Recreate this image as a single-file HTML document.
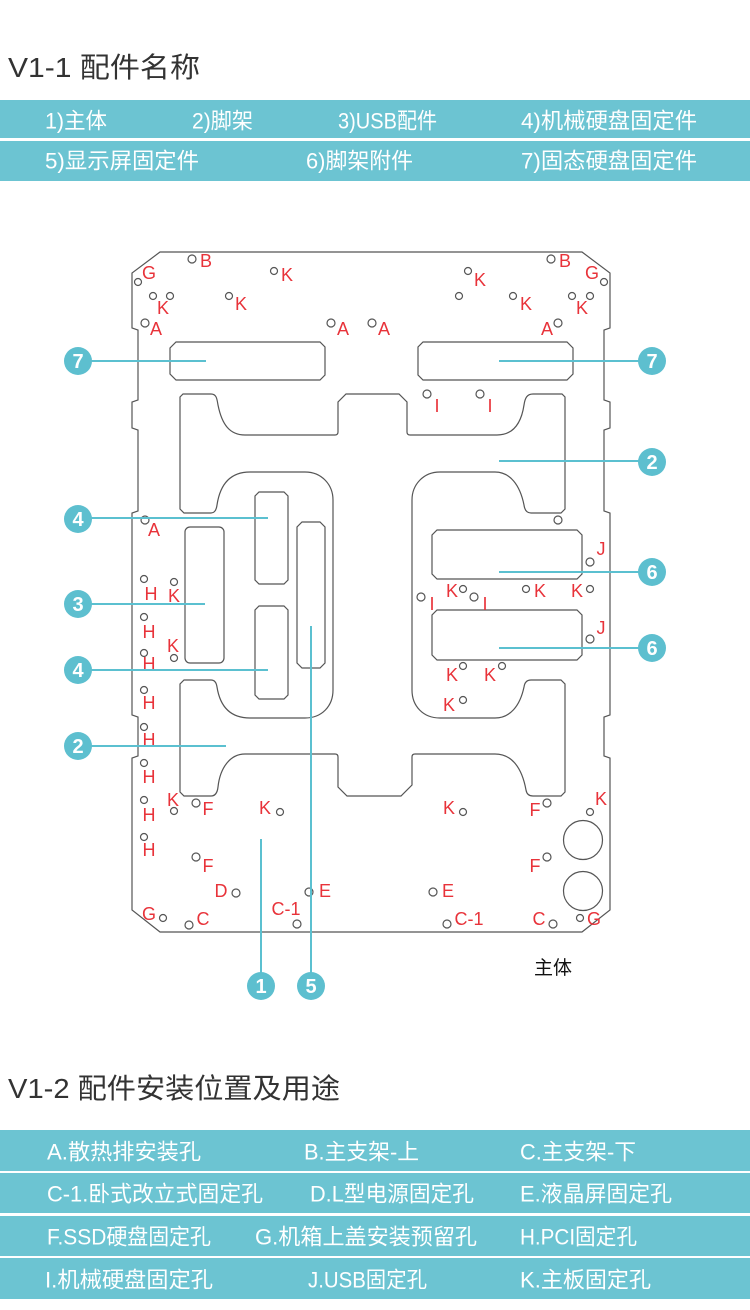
<!DOCTYPE html>
<html><head><meta charset="utf-8"><style>
html,body{margin:0;padding:0;background:#fff;}
svg{display:block}
.t{font-family:"Liberation Sans","Noto Sans CJK SC",sans-serif;}
.w{fill:#fff;font-size:22px;font-family:"Liberation Sans","Noto Sans CJK SC",sans-serif;dominant-baseline:central}
.r{fill:#e8333a;font-size:18px;font-family:"Liberation Sans",sans-serif;text-anchor:middle;dominant-baseline:central}
.h{fill:none;stroke:#555;stroke-width:1.2}
.c{fill:#5dbfcf}
.n{fill:#fff;font-size:20px;font-weight:bold;font-family:"Liberation Sans",sans-serif;text-anchor:middle;dominant-baseline:central}
.l{stroke:#5bc0d0;stroke-width:2;fill:none}
</style></head><body>
<svg width="750" height="1310" viewBox="0 0 750 1310" xmlns="http://www.w3.org/2000/svg">
<text class="t" x="8" y="77" font-size="28" fill="#333" textLength="192" lengthAdjust="spacingAndGlyphs">V1-1 配件名称</text>
<rect x="0" y="100" width="750" height="38" fill="#6cc4d2"/>
<rect x="0" y="141" width="750" height="40" fill="#6cc4d2"/>
<text class="w" x="45" y="121" textLength="62" lengthAdjust="spacingAndGlyphs">1)主体</text>
<text class="w" x="192" y="121" textLength="61" lengthAdjust="spacingAndGlyphs">2)脚架</text>
<text class="w" x="338" y="121" textLength="99" lengthAdjust="spacingAndGlyphs">3)USB配件</text>
<text class="w" x="521" y="121" textLength="176" lengthAdjust="spacingAndGlyphs">4)机械硬盘固定件</text>
<text class="w" x="45" y="161" textLength="154" lengthAdjust="spacingAndGlyphs">5)显示屏固定件</text>
<text class="w" x="306" y="161" textLength="107" lengthAdjust="spacingAndGlyphs">6)脚架附件</text>
<text class="w" x="521" y="161" textLength="176" lengthAdjust="spacingAndGlyphs">7)固态硬盘固定件</text>

<!-- board -->
<path class="h" stroke-width="1.4" d="M160,252 L582,252 L610,273 L610,328 L604,330 L604,400 L610,402 L610,428 L604,430 L604,511 L610,513 L610,715 L604,717 L604,756 L610,758 L610,910 L582,932 L160,932 L132,910 L132,758 L138,756 L138,717 L132,715 L132,513 L138,511 L138,430 L132,428 L132,402 L138,400 L138,330 L132,328 L132,273 Z"/>
<path class="h" d="M176,342 L320,342 L325,347 L325,375 L320,380 L176,380 L170,374 L170,348 Z"/>
<path class="h" d="M423,342 L567,342 L573,348 L573,374 L567,380 L423,380 L418,375 L418,347 Z"/>
<path class="h" d="M180,397 L183,394 L211,394 C217,394 217,400 218,405 C222,425 230,435 245,435 L335,435 Q338,435 338,432 L338,402 L346,394 L399,394 L407,402 L407,432 Q407,435 410,435 L497,435 C512,435 521,425 524,405 C525,398 527,394 533,394 L562,394 L565,397 L565,509 L561,513 L531,513 Q525,513 524,505 C520,485 510,472 495,472 L440,472 C423,472 412,485 412,500 L412,690 C412,706 423,718 440,718 L495,718 C510,718 520,706 524,687 Q525,680 531,680 L561,680 L565,684 L565,792 L561,796 L533,796 Q527,796 526,790 C522,768 512,754 495,754 L415,754 Q412,754 412,757 L412,785 L401,796 L347,796 L338,787 L338,757 Q338,754 335,754 L245,754 C230,754 220,768 218,787 Q217,796 211,796 L184,796 L180,792 L180,684 L184,680 L211,680 Q216,680 217,687 C220,706 230,718 250,718 L305,718 C322,718 333,706 333,690 L333,500 C333,485 322,472 305,472 L250,472 C230,472 220,485 217,505 Q216,513 211,513 L184,513 L180,509 Z"/>
<path class="h" d="M259,492 L284,492 L288,496 L288,580 L284,584 L259,584 L255,580 L255,496 Z"/>
<path class="h" d="M259,606 L284,606 L288,610 L288,695 L284,699 L259,699 L255,695 L255,610 Z"/>
<rect class="h" x="185" y="527" width="39" height="136" rx="5"/>
<path class="h" d="M302,522 L320,522 L325,527 L325,663 L320,668 L302,668 L297,663 L297,527 Z"/>
<path class="h" d="M437,530 L577,530 L582,535 L582,574 L577,579 L437,579 L432,574 L432,535 Z"/>
<path class="h" d="M437,610 L577,610 L582,615 L582,655 L577,660 L437,660 L432,655 L432,615 Z"/>
<circle class="h" cx="583" cy="840" r="19.5"/>
<circle class="h" cx="583" cy="891" r="19.5"/>

<!-- holes -->
<g class="h">
<circle cx="192" cy="259" r="4"/><circle cx="138" cy="282" r="3.5"/><circle cx="274" cy="271" r="3.5"/>
<circle cx="153" cy="296" r="3.5"/><circle cx="170" cy="296" r="3.5"/><circle cx="229" cy="296" r="3.5"/>
<circle cx="145" cy="323" r="4"/><circle cx="331" cy="323" r="4"/><circle cx="372" cy="323" r="4"/>
<circle cx="551" cy="259" r="4"/><circle cx="604" cy="282" r="3.5"/><circle cx="468" cy="271" r="3.5"/>
<circle cx="459" cy="296" r="3.5"/><circle cx="513" cy="296" r="3.5"/><circle cx="572" cy="296" r="3.5"/><circle cx="590" cy="296" r="3.5"/>
<circle cx="558" cy="323" r="4"/><circle cx="427" cy="394" r="4"/><circle cx="480" cy="394" r="4"/>
<circle cx="145" cy="520" r="4"/><circle cx="144" cy="579" r="3.5"/><circle cx="174" cy="582" r="3.5"/>
<circle cx="144" cy="617" r="3.5"/><circle cx="174" cy="658" r="3.5"/><circle cx="144" cy="653" r="3.5"/>
<circle cx="144" cy="690" r="3.5"/><circle cx="144" cy="727" r="3.5"/><circle cx="144" cy="763" r="3.5"/>
<circle cx="144" cy="800" r="3.5"/><circle cx="144" cy="837" r="3.5"/>
<circle cx="558" cy="520" r="4"/><circle cx="590" cy="562" r="4"/><circle cx="463" cy="589" r="3.5"/>
<circle cx="421" cy="597" r="4"/><circle cx="474" cy="597" r="4"/><circle cx="526" cy="589" r="3.5"/><circle cx="590" cy="589" r="3.5"/>
<circle cx="590" cy="639" r="4"/><circle cx="463" cy="666" r="3.5"/><circle cx="502" cy="666" r="3.5"/><circle cx="463" cy="700" r="3.5"/>
<circle cx="174" cy="811" r="3.5"/><circle cx="196" cy="803" r="4"/><circle cx="280" cy="812" r="3.5"/>
<circle cx="196" cy="857" r="4"/><circle cx="236" cy="893" r="4"/><circle cx="309" cy="892" r="4"/><circle cx="433" cy="892" r="4"/>
<circle cx="163" cy="918" r="3.5"/><circle cx="189" cy="925" r="4"/><circle cx="297" cy="924" r="4"/>
<circle cx="447" cy="924" r="4"/><circle cx="553" cy="924" r="4"/><circle cx="580" cy="918" r="3.5"/>
<circle cx="463" cy="812" r="3.5"/><circle cx="547" cy="803" r="4"/><circle cx="590" cy="812" r="3.5"/><circle cx="547" cy="857" r="4"/>
</g>

<!-- red labels -->
<g>
<text class="r" x="206" y="261">B</text><text class="r" x="149" y="273">G</text><text class="r" x="287" y="275">K</text>
<text class="r" x="163" y="308">K</text><text class="r" x="241" y="304">K</text>
<text class="r" x="156" y="329">A</text><text class="r" x="343" y="329">A</text><text class="r" x="384" y="329">A</text>
<text class="r" x="565" y="261">B</text><text class="r" x="592" y="273">G</text><text class="r" x="480" y="280">K</text>
<text class="r" x="526" y="304">K</text><text class="r" x="582" y="308">K</text><text class="r" x="547" y="329">A</text>
<text class="r" x="437" y="406">I</text><text class="r" x="490" y="406">I</text>
<text class="r" x="154" y="530">A</text>
<text class="r" x="151" y="594">H</text><text class="r" x="174" y="596">K</text>
<text class="r" x="149" y="632">H</text><text class="r" x="173" y="646">K</text><text class="r" x="149" y="664">H</text>
<text class="r" x="149" y="703">H</text><text class="r" x="149" y="740">H</text><text class="r" x="149" y="777">H</text>
<text class="r" x="149" y="815">H</text><text class="r" x="149" y="850">H</text>
<text class="r" x="601" y="549">J</text><text class="r" x="452" y="591">K</text><text class="r" x="432" y="604">I</text>
<text class="r" x="485" y="604">I</text><text class="r" x="540" y="591">K</text><text class="r" x="577" y="591">K</text>
<text class="r" x="601" y="628">J</text><text class="r" x="452" y="675">K</text><text class="r" x="490" y="675">K</text><text class="r" x="449" y="705">K</text>
<text class="r" x="173" y="800">K</text><text class="r" x="208" y="809">F</text><text class="r" x="265" y="808">K</text>
<text class="r" x="208" y="866">F</text><text class="r" x="221" y="891">D</text><text class="r" x="325" y="891">E</text>
<text class="r" x="448" y="891">E</text><text class="r" x="149" y="914">G</text><text class="r" x="203" y="919">C</text>
<text class="r" x="286" y="909">C-1</text><text class="r" x="469" y="919">C-1</text><text class="r" x="539" y="919">C</text>
<text class="r" x="594" y="919">G</text><text class="r" x="449" y="808">K</text><text class="r" x="535" y="810">F</text>
<text class="r" x="601" y="799">K</text><text class="r" x="535" y="866">F</text>
</g>
<text class="t" x="553" y="974" font-size="19" text-anchor="middle" fill="#111">主体</text>

<!-- callouts -->
<g class="l">
<line x1="91" y1="361" x2="206" y2="361"/><line x1="499" y1="361" x2="639" y2="361"/>
<line x1="499" y1="461" x2="639" y2="461"/>
<line x1="91" y1="518" x2="268" y2="518"/><line x1="91" y1="604" x2="205" y2="604"/>
<line x1="91" y1="670" x2="268" y2="670"/><line x1="91" y1="746" x2="226" y2="746"/>
<line x1="499" y1="572" x2="639" y2="572"/><line x1="499" y1="648" x2="639" y2="648"/>
<line x1="261" y1="839" x2="261" y2="973"/><line x1="311" y1="626" x2="311" y2="973"/>
</g>
<g>
<circle class="c" cx="78" cy="361" r="14"/><text class="n" x="78" y="362">7</text>
<circle class="c" cx="78" cy="519" r="14"/><text class="n" x="78" y="520">4</text>
<circle class="c" cx="78" cy="604" r="14"/><text class="n" x="78" y="605">3</text>
<circle class="c" cx="78" cy="670" r="14"/><text class="n" x="78" y="671">4</text>
<circle class="c" cx="78" cy="746" r="14"/><text class="n" x="78" y="747">2</text>
<circle class="c" cx="652" cy="361" r="14"/><text class="n" x="652" y="362">7</text>
<circle class="c" cx="652" cy="462" r="14"/><text class="n" x="652" y="463">2</text>
<circle class="c" cx="652" cy="572" r="14"/><text class="n" x="652" y="573">6</text>
<circle class="c" cx="652" cy="648" r="14"/><text class="n" x="652" y="649">6</text>
<circle class="c" cx="261" cy="986" r="14"/><text class="n" x="261" y="987">1</text>
<circle class="c" cx="311" cy="986" r="14"/><text class="n" x="311" y="987">5</text>
</g>

<text class="t" x="8" y="1098" font-size="28" fill="#333" textLength="332" lengthAdjust="spacingAndGlyphs">V1-2 配件安装位置及用途</text>
<rect x="0" y="1130" width="750" height="41" fill="#6cc4d2"/>
<rect x="0" y="1173" width="750" height="40" fill="#6cc4d2"/>
<rect x="0" y="1216" width="750" height="40" fill="#6cc4d2"/>
<rect x="0" y="1258" width="750" height="41" fill="#6cc4d2"/>
<text class="w" x="47" y="1152" textLength="154" lengthAdjust="spacingAndGlyphs">A.散热排安装孔</text>
<text class="w" x="304" y="1152" textLength="115" lengthAdjust="spacingAndGlyphs">B.主支架-上</text>
<text class="w" x="520" y="1152" textLength="116" lengthAdjust="spacingAndGlyphs">C.主支架-下</text>
<text class="w" x="47" y="1194" textLength="216" lengthAdjust="spacingAndGlyphs">C-1.卧式改立式固定孔</text>
<text class="w" x="310" y="1194" textLength="164" lengthAdjust="spacingAndGlyphs">D.L型电源固定孔</text>
<text class="w" x="520" y="1194" textLength="152" lengthAdjust="spacingAndGlyphs">E.液晶屏固定孔</text>
<text class="w" x="47" y="1237" textLength="164" lengthAdjust="spacingAndGlyphs">F.SSD硬盘固定孔</text>
<text class="w" x="255" y="1237" textLength="222" lengthAdjust="spacingAndGlyphs">G.机箱上盖安装预留孔</text>
<text class="w" x="520" y="1237" textLength="117" lengthAdjust="spacingAndGlyphs">H.PCI固定孔</text>
<text class="w" x="45" y="1280" textLength="168" lengthAdjust="spacingAndGlyphs">I.机械硬盘固定孔</text>
<text class="w" x="308" y="1280" textLength="119" lengthAdjust="spacingAndGlyphs">J.USB固定孔</text>
<text class="w" x="520" y="1280" textLength="131" lengthAdjust="spacingAndGlyphs">K.主板固定孔</text>
</svg>
</body></html>
